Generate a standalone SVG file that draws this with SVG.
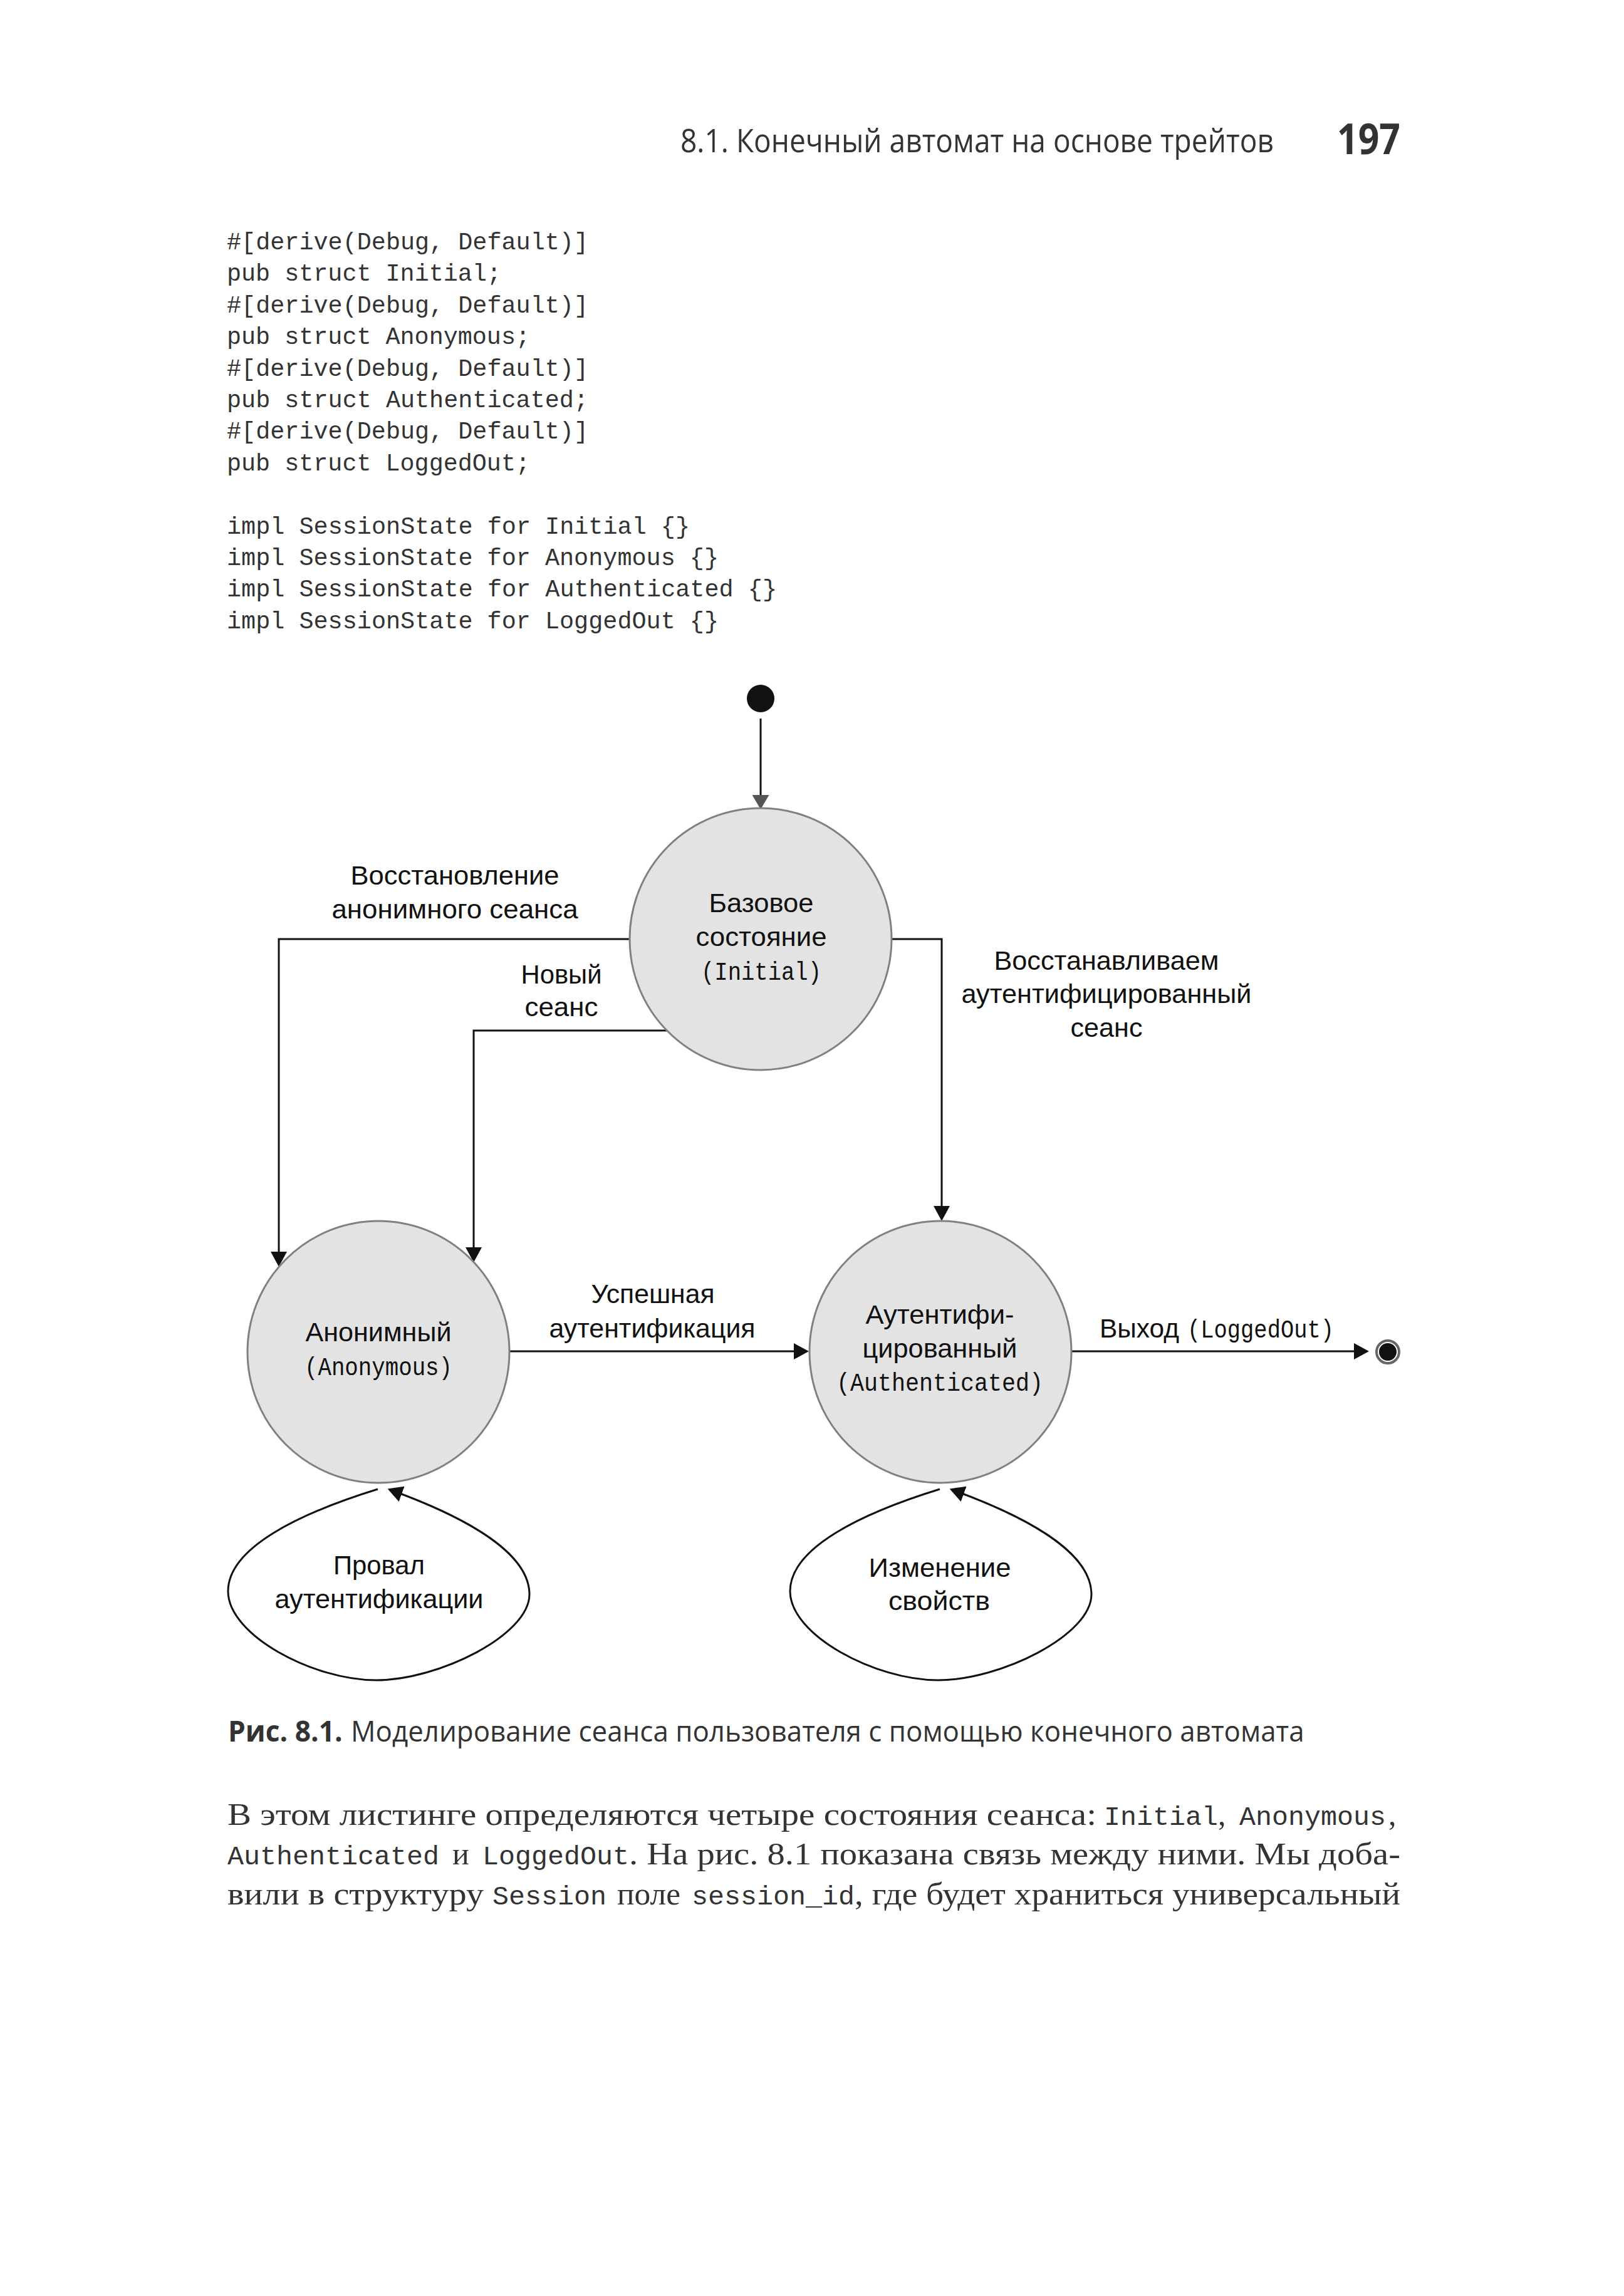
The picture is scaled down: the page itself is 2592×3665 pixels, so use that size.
<svg xmlns="http://www.w3.org/2000/svg" width="2592" height="3665" viewBox="0 0 2592 3665">
<style>
.hdr{font-family:"Open Sans","Noto Sans",sans-serif;fill:#333}
.code{font-family:"Liberation Mono","DejaVu Sans Mono",monospace;font-size:38px;fill:#333}
.lbl{font-family:"Liberation Sans",Arial,sans-serif;font-size:42px;fill:#111;text-anchor:middle}
.lbls{font-family:"Liberation Sans",Arial,sans-serif;font-size:42px;fill:#111}
.mono{font-family:"Liberation Mono","DejaVu Sans Mono",monospace;font-size:40px;fill:#111}
.state{fill:#e3e3e3;stroke:#808080;stroke-width:3}
.edge{fill:none;stroke:#111;stroke-width:3}
.body{font-family:"Liberation Serif","DejaVu Serif",serif;font-size:50px;fill:#333}
.bmono{font-family:"Liberation Mono","DejaVu Sans Mono",monospace;font-size:43px;fill:#333}
</style>
<defs>
<marker id="ah" viewBox="0 0 24 26" refX="14" refY="13" markerWidth="24" markerHeight="26" markerUnits="userSpaceOnUse" orient="auto"><path d="M0,0 L24,13 L0,26 z" fill="#111"/></marker>
<marker id="ahg" viewBox="0 0 23 27" refX="13" refY="13.5" markerWidth="23" markerHeight="27" markerUnits="userSpaceOnUse" orient="auto"><path d="M0,0 L23,13.5 L0,27 z" fill="#555"/></marker>
</defs>
<rect width="2592" height="3665" fill="#fff"/>

<g id="header">
<text class="hdr" transform="translate(1086,243) scale(0.85,1)" x="0" y="0" font-size="52" textLength="1114" lengthAdjust="spacingAndGlyphs">8.1. Конечный автомат на основе трейтов</text>
<text class="hdr" transform="translate(2134,246) scale(0.87,1)" x="0" y="0" font-size="68" font-weight="bold" textLength="116" lengthAdjust="spacingAndGlyphs">197</text>
</g>

<g id="code">
<text class="code" x="362" y="398" textLength="577" lengthAdjust="spacingAndGlyphs">#[derive(Debug, Default)]</text>
<text class="code" x="362" y="448" textLength="438" lengthAdjust="spacingAndGlyphs">pub struct Initial;</text>
<text class="code" x="362" y="499" textLength="577" lengthAdjust="spacingAndGlyphs">#[derive(Debug, Default)]</text>
<text class="code" x="362" y="549" textLength="484" lengthAdjust="spacingAndGlyphs">pub struct Anonymous;</text>
<text class="code" x="362" y="600" textLength="577" lengthAdjust="spacingAndGlyphs">#[derive(Debug, Default)]</text>
<text class="code" x="362" y="650" textLength="577" lengthAdjust="spacingAndGlyphs">pub struct Authenticated;</text>
<text class="code" x="362" y="700" textLength="577" lengthAdjust="spacingAndGlyphs">#[derive(Debug, Default)]</text>
<text class="code" x="362" y="751" textLength="484" lengthAdjust="spacingAndGlyphs">pub struct LoggedOut;</text>
<text class="code" x="362" y="852" textLength="739" lengthAdjust="spacingAndGlyphs">impl SessionState for Initial {}</text>
<text class="code" x="362" y="902" textLength="785" lengthAdjust="spacingAndGlyphs">impl SessionState for Anonymous {}</text>
<text class="code" x="362" y="952" textLength="878" lengthAdjust="spacingAndGlyphs">impl SessionState for Authenticated {}</text>
<text class="code" x="362" y="1003" textLength="785" lengthAdjust="spacingAndGlyphs">impl SessionState for LoggedOut {}</text>
</g>

<g id="connectors">
<path class="edge" d="M1214,1147 V1282" stroke="#555" marker-end="url(#ahg)"/>
<path class="edge" d="M1005,1499 H445 V2012" marker-end="url(#ah)"/>
<path class="edge" d="M1064,1645 H756 V2005" marker-end="url(#ah)"/>
<path class="edge" d="M1423,1499 H1503 V1939" marker-end="url(#ah)"/>
<path class="edge" d="M813,2157 H1281" marker-end="url(#ah)"/>
<path class="edge" d="M1710,2157 H2175" marker-end="url(#ah)"/>
<path id="loop-anon" class="edge" d="M603,2377 C480,2415 364,2470 364,2540 C364,2610 500,2682 600,2682 C700,2682 845,2610 845,2545 C845,2470 715,2412 628,2380" marker-end="url(#ah)"/>
<path id="loop-auth" class="edge" transform="translate(897,0)" d="M603,2377 C480,2415 364,2470 364,2540 C364,2610 500,2682 600,2682 C700,2682 845,2610 845,2545 C845,2470 715,2412 628,2380" marker-end="url(#ah)"/>
</g>

<g id="start">
<circle cx="1214" cy="1115" r="22" fill="#111"/>
</g>

<g id="initial">
<circle class="state" cx="1214" cy="1499" r="209"/>
<text class="lbl" x="1215" y="1456" textLength="167" lengthAdjust="spacingAndGlyphs">Базовое</text>
<text class="lbl" x="1215" y="1510" textLength="209" lengthAdjust="spacingAndGlyphs">состояние</text>
<text class="mono" x="1215" y="1564" text-anchor="middle" textLength="192" lengthAdjust="spacingAndGlyphs">(Initial)</text>
</g>

<g id="anonymous">
<circle class="state" cx="604" cy="2158" r="209"/>
<text class="lbl" x="604" y="2141" textLength="233" lengthAdjust="spacingAndGlyphs">Анонимный</text>
<text class="mono" x="604" y="2195" text-anchor="middle" textLength="236" lengthAdjust="spacingAndGlyphs">(Anonymous)</text>
</g>

<g id="authenticated">
<circle class="state" cx="1501" cy="2158" r="209"/>
<text class="lbl" x="1500" y="2113" textLength="237" lengthAdjust="spacingAndGlyphs">Аутентифи-</text>
<text class="lbl" x="1500" y="2167" textLength="247" lengthAdjust="spacingAndGlyphs">цированный</text>
<text class="mono" x="1500" y="2220" text-anchor="middle" textLength="330" lengthAdjust="spacingAndGlyphs">(Authenticated)</text>
</g>

<g id="final">
<circle cx="2215" cy="2158" r="18" fill="#fff" stroke="#666" stroke-width="4"/>
<circle cx="2215" cy="2158" r="14" fill="#111"/>
</g>

<g id="edge-labels">
<text class="lbl" x="726" y="1412" textLength="333" lengthAdjust="spacingAndGlyphs">Восстановление</text>
<text class="lbl" x="726" y="1466" textLength="393" lengthAdjust="spacingAndGlyphs">анонимного сеанса</text>
<text class="lbl" x="896" y="1570" textLength="129" lengthAdjust="spacingAndGlyphs">Новый</text>
<text class="lbl" x="896" y="1622" textLength="117" lengthAdjust="spacingAndGlyphs">сеанс</text>
<text class="lbl" x="1766" y="1548" textLength="359" lengthAdjust="spacingAndGlyphs">Восстанавливаем</text>
<text class="lbl" x="1766" y="1601" textLength="463" lengthAdjust="spacingAndGlyphs">аутентифицированный</text>
<text class="lbl" x="1766" y="1655" textLength="115" lengthAdjust="spacingAndGlyphs">сеанс</text>
<text class="lbl" x="1042" y="2080" textLength="197" lengthAdjust="spacingAndGlyphs">Успешная</text>
<text class="lbl" x="1041" y="2135" textLength="329" lengthAdjust="spacingAndGlyphs">аутентификация</text>
<text class="lbls" x="1755" y="2135" textLength="127" lengthAdjust="spacingAndGlyphs">Выход</text>
<text class="mono" x="1895" y="2135" textLength="234" lengthAdjust="spacingAndGlyphs">(LoggedOut)</text>
<text class="lbl" x="605" y="2513" textLength="146" lengthAdjust="spacingAndGlyphs">Провал</text>
<text class="lbl" x="605" y="2567" textLength="333" lengthAdjust="spacingAndGlyphs">аутентификации</text>
<text class="lbl" x="1500" y="2517" textLength="227" lengthAdjust="spacingAndGlyphs">Изменение</text>
<text class="lbl" x="1499" y="2570" textLength="162" lengthAdjust="spacingAndGlyphs">свойств</text>
</g>

<g id="caption">
<text class="hdr" transform="translate(364,2780) scale(0.87,1)" x="0" y="0" font-size="46" font-weight="bold" textLength="210" lengthAdjust="spacingAndGlyphs">Рис. 8.1.</text>
<text class="hdr" transform="translate(560,2780) scale(0.87,1)" x="0" y="0" font-size="46" textLength="1749" lengthAdjust="spacingAndGlyphs">Моделирование сеанса пользователя с помощью конечного автомата</text>
</g>

<g id="body">
<text class="body" x="363" y="2913" textLength="1387" lengthAdjust="spacingAndGlyphs">В этом листинге определяются четыре состояния сеанса:</text>
<text class="bmono" x="1762" y="2913" textLength="182" lengthAdjust="spacingAndGlyphs">Initial</text>
<text class="body" x="1944" y="2913">,</text>
<text class="bmono" x="1978" y="2913" textLength="234" lengthAdjust="spacingAndGlyphs">Anonymous</text>
<text class="body" x="2216" y="2913">,</text>

<text class="bmono" x="363" y="2976" textLength="338" lengthAdjust="spacingAndGlyphs">Authenticated</text>
<text class="body" x="722" y="2976">и</text>
<text class="bmono" x="770" y="2976" textLength="234" lengthAdjust="spacingAndGlyphs">LoggedOut</text>
<text class="body" x="1004" y="2976" textLength="1231" lengthAdjust="spacingAndGlyphs">. На рис. 8.1 показана связь между ними. Мы доба-</text>

<text class="body" x="363" y="3040" textLength="409" lengthAdjust="spacingAndGlyphs">вили в структуру</text>
<text class="bmono" x="786" y="3040" textLength="182" lengthAdjust="spacingAndGlyphs">Session</text>
<text class="body" x="985" y="3040" textLength="101" lengthAdjust="spacingAndGlyphs">поле</text>
<text class="bmono" x="1104" y="3040" textLength="260" lengthAdjust="spacingAndGlyphs">session_id</text>
<text class="body" x="1364" y="3040" textLength="871" lengthAdjust="spacingAndGlyphs">, где будет храниться универсальный</text>
</g>
</svg>
